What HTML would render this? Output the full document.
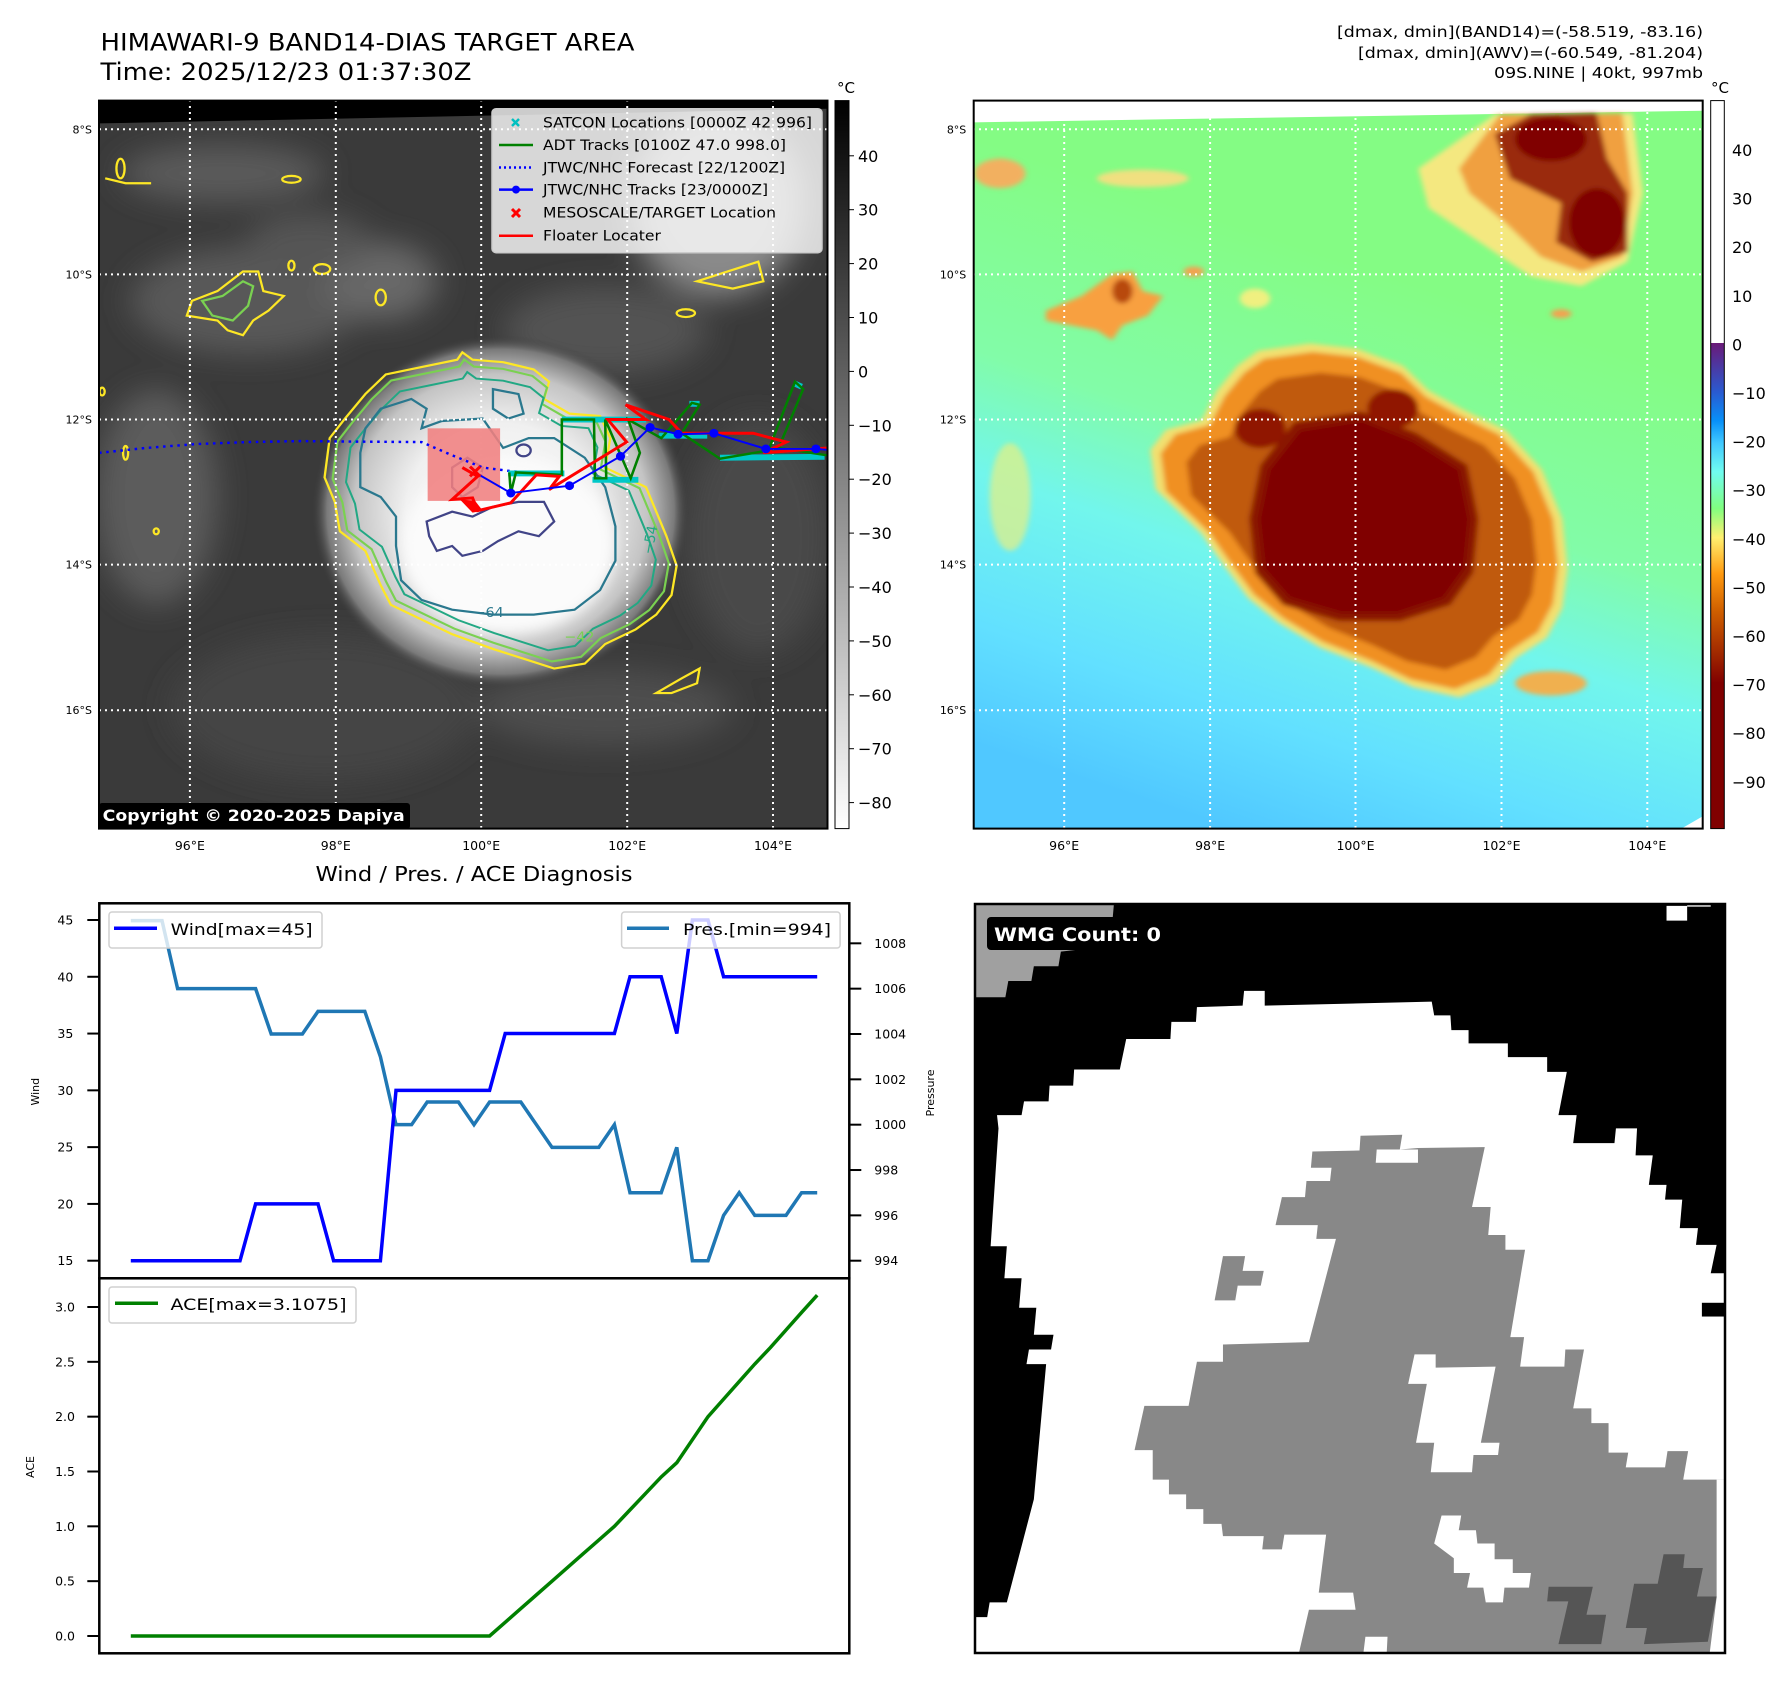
<!DOCTYPE html>
<html><head><meta charset="utf-8"><title>HIMAWARI-9 BAND14 DIAS</title>
<style>
html,body{margin:0;padding:0;background:#fff;}
svg{display:block;font-family:"DejaVu Sans","Liberation Sans",sans-serif;}
</style></head>
<body>
<svg id="root" width="1792" height="1690" viewBox="0 0 1792 1690" xmlns="http://www.w3.org/2000/svg">
<defs>
  <filter id="blur4" x="-20%" y="-20%" width="140%" height="140%"><feGaussianBlur stdDeviation="5"/></filter>
  <filter id="blur10" x="-30%" y="-30%" width="160%" height="160%"><feGaussianBlur stdDeviation="14"/></filter>
  <filter id="blur25" x="-50%" y="-50%" width="200%" height="200%"><feGaussianBlur stdDeviation="30"/></filter>
  <radialGradient id="stormGlow" cx="0.5" cy="0.5" r="0.5">
    <stop offset="0" stop-color="#ffffff"/>
    <stop offset="0.5" stop-color="#f0f0f0"/>
    <stop offset="0.78" stop-color="#c4c4c4"/>
    <stop offset="0.92" stop-color="#7a7a7a"/>
    <stop offset="1" stop-color="#3c3c3c" stop-opacity="0"/>
  </radialGradient>
  <linearGradient id="bgRight" x1="0.6" y1="0.25" x2="0.35" y2="1">
    <stop offset="0" stop-color="#84fc84"/>
    <stop offset="0.35" stop-color="#82fca8"/>
    <stop offset="0.55" stop-color="#72f6ec"/>
    <stop offset="0.8" stop-color="#62e0ff"/>
    <stop offset="1" stop-color="#50c8ff"/>
  </linearGradient>
  <linearGradient id="cbLeft" x1="0" y1="0" x2="0" y2="1">
    <stop offset="0" stop-color="#000"/>
    <stop offset="1" stop-color="#fff"/>
  </linearGradient>
  <linearGradient id="cbRight" x1="0" y1="0" x2="0" y2="1">
    <stop offset="0" stop-color="#ffffff"/>
    <stop offset="0.333" stop-color="#ffffff"/>
    <stop offset="0.3331" stop-color="#6a1a78"/>
    <stop offset="0.40" stop-color="#2a5ad0"/>
    <stop offset="0.44" stop-color="#0890f8"/>
    <stop offset="0.47" stop-color="#40c8ff"/>
    <stop offset="0.51" stop-color="#70fcf0"/>
    <stop offset="0.56" stop-color="#80ff80"/>
    <stop offset="0.60" stop-color="#fff070"/>
    <stop offset="0.65" stop-color="#ff9a10"/>
    <stop offset="0.70" stop-color="#d06000"/>
    <stop offset="0.76" stop-color="#a02800"/>
    <stop offset="0.80" stop-color="#800000"/>
    <stop offset="1" stop-color="#800000"/>
  </linearGradient>
  <clipPath id="clipL"><rect x="99" y="100.6" width="728.5" height="728"/></clipPath>
  <clipPath id="clipR"><rect x="973.7" y="100.6" width="729" height="728"/></clipPath>
  <clipPath id="clipW"><rect x="975" y="904" width="750" height="749"/></clipPath>
  <path id="stormY" d="M570,570 L640,555 L710,540 L720,525 L740,540 L800,545 L860,560 L890,585 L880,620 L930,650 L990,655 L1010,700 L1000,760 L1060,790 L1080,800 L1100,850 L1120,900 L1140,960 L1130,1020 L1100,1060 L1060,1090 L1000,1120 L960,1160 L900,1170 L840,1150 L780,1130 L700,1100 L640,1070 L580,1040 L560,1000 L530,930 L480,890 L470,830 L450,780 L460,700 L490,660 L530,610 Z"/>
  <path id="storm64" d="M560,640 L620,620 L650,640 L640,680 L680,665 L760,660 L780,690 L800,720 L850,700 L900,700 L960,740 L1000,800 L1020,880 L1020,950 L990,1010 L940,1050 L860,1060 L780,1060 L700,1050 L640,1030 L600,990 L590,920 L590,860 L560,820 L520,800 L520,730 L530,680 Z"/>
</defs>

<text x="100.5" y="50.7" font-size="24" textLength="534" lengthAdjust="spacingAndGlyphs">HIMAWARI-9 BAND14-DIAS TARGET AREA</text>
<text x="100.5" y="80" font-size="24" textLength="371" lengthAdjust="spacingAndGlyphs">Time: 2025/12/23 01:37:30Z</text>
<g text-anchor="end" font-size="15.5">
  <text x="1703" y="37" textLength="366" lengthAdjust="spacingAndGlyphs">[dmax, dmin](BAND14)=(-58.519, -83.16)</text>
  <text x="1703" y="58" textLength="345" lengthAdjust="spacingAndGlyphs">[dmax, dmin](AWV)=(-60.549, -81.204)</text>
  <text x="1703" y="78" textLength="209" lengthAdjust="spacingAndGlyphs">09S.NINE | 40kt, 997mb</text>
</g>

<!-- ===== LEFT MAP ===== -->
<g>
<g clip-path="url(#clipL)">
 <rect x="99" y="100.6" width="729" height="728" fill="#3a3a3a"/>
 <g transform="translate(95,95) scale(0.5102,0.4902)">
  <g filter="url(#blur25)">
   <ellipse cx="250" cy="160" rx="200" ry="60" fill="#5a5a5a"/>
   <ellipse cx="300" cy="420" rx="230" ry="110" fill="#585858"/>
   <ellipse cx="560" cy="380" rx="110" ry="80" fill="#686868"/>
   <ellipse cx="420" cy="300" rx="120" ry="60" fill="#555"/>
   <ellipse cx="120" cy="820" rx="120" ry="220" fill="#5c5c5c"/>
   <ellipse cx="1220" cy="220" rx="170" ry="190" fill="#8a8a8a"/>
   <ellipse cx="1000" cy="480" rx="200" ry="90" fill="#525252"/>
   <ellipse cx="1300" cy="900" rx="140" ry="240" fill="#4a4a4a"/>
   <ellipse cx="450" cy="1250" rx="300" ry="150" fill="#444"/>
   <ellipse cx="1000" cy="1250" rx="250" ry="80" fill="#4d4d4d"/>
  </g>
  <ellipse cx="795" cy="850" rx="370" ry="360" fill="url(#stormGlow)"/>
  <ellipse cx="810" cy="920" rx="210" ry="180" fill="#fbfbfb" filter="url(#blur10)"/>
  <polygon points="8,0 1440,0 1440,28 8,58" fill="#000"/>
  <g fill="none" stroke-width="4.5">
   <use href="#stormY" stroke="#fde725"/>
   <use href="#stormY" stroke="#7ad151" transform="translate(800,850) scale(0.955) translate(-800,-850)"/>
   <use href="#stormY" stroke="#22a884" transform="translate(800,860) scale(0.88) translate(-800,-860)"/>
   <use href="#storm64" stroke="#2a788e"/>
   <path d="M650,870 L700,850 L740,860 L780,840 L830,830 L880,830 L900,870 L870,900 L830,890 L790,910 L760,930 L720,940 L700,920 L670,930 L655,900 Z" stroke="#414487"/>
   <path d="M700,760 L730,740 L760,760 L750,800 L720,820 L700,800 Z" stroke="#414487"/>
   <ellipse cx="840" cy="725" rx="14" ry="12" stroke="#414487"/>
   <path d="M780,600 L830,610 L840,650 L810,660 L780,640 Z" stroke="#2a788e"/>
   <path d="M190,420 L240,400 L290,360 L320,360 L330,400 L370,410 L340,440 L310,460 L290,490 L260,480 L240,460 L180,450 Z" stroke="#fde725"/>
   <path d="M210,420 L250,410 L290,380 L310,390 L300,430 L270,460 L230,450 Z" stroke="#7ad151"/>
   <ellipse cx="445" cy="355" rx="16" ry="10" stroke="#fde725"/>
   <ellipse cx="385" cy="348" rx="6" ry="10" stroke="#fde725"/>
   <ellipse cx="560" cy="413" rx="10" ry="16" stroke="#fde725"/>
   <ellipse cx="50" cy="150" rx="8" ry="20" stroke="#fde725"/>
   <path d="M20,170 L60,180 L110,180" stroke="#fde725"/>
   <ellipse cx="385" cy="172" rx="18" ry="7" stroke="#fde725"/>
   <ellipse cx="1158" cy="445" rx="18" ry="8" stroke="#fde725"/>
   <path d="M1180,380 L1240,360 L1300,340 L1310,380 L1250,395 Z" stroke="#fde725"/>
   <path d="M1100,1220 L1150,1190 L1185,1170 L1180,1200 L1130,1220 Z" stroke="#fde725"/>
   <ellipse cx="60" cy="730" rx="5" ry="14" stroke="#fde725"/>
   <ellipse cx="14" cy="605" rx="5" ry="8" stroke="#fde725"/>
   <ellipse cx="120" cy="890" rx="5" ry="6" stroke="#fde725"/>
  </g>
  <g font-size="28" fill="#2a788e">
   <text x="742" y="1065">−64</text>
   <text x="1060" y="940" fill="#22a884" transform="rotate(-80 1075 920)">−54</text>
   <text x="920" y="1115" fill="#7ad151">−42</text>
  </g>
 </g>
 <g stroke="#fff" stroke-width="2" stroke-dasharray="2,4">
  <line x1="189.9" y1="100" x2="189.9" y2="829"/><line x1="335.8" y1="100" x2="335.8" y2="829"/><line x1="481.2" y1="100" x2="481.2" y2="829"/><line x1="627.2" y1="100" x2="627.2" y2="829"/><line x1="773" y1="100" x2="773" y2="829"/>
  <line x1="99" y1="129.3" x2="828" y2="129.3"/><line x1="99" y1="274.4" x2="828" y2="274.4"/><line x1="99" y1="419.5" x2="828" y2="419.5"/><line x1="99" y1="564.6" x2="828" y2="564.6"/><line x1="99" y1="710.2" x2="828" y2="710.2"/>
 </g>
 <g transform="translate(95,95) scale(0.5102,0.4902)">
  <rect x="652" y="680" width="142" height="148" fill="#f08080" opacity="0.88"/>
  <polyline points="8,730 100,720 200,712 300,708 400,706 500,707 640,708 700,735 760,760 820,768 870,770" fill="none" stroke="#0000ff" stroke-width="5" stroke-dasharray="5,9"/>
  <g stroke="#00c8c8" stroke-width="12" fill="none">
   <line x1="915" y1="662" x2="1080" y2="662"/><line x1="810" y1="772" x2="920" y2="772"/><line x1="975" y1="785" x2="1065" y2="785"/><line x1="1105" y1="695" x2="1200" y2="695"/><line x1="1225" y1="740" x2="1430" y2="738"/><line x1="1165" y1="630" x2="1185" y2="630"/><line x1="1370" y1="588" x2="1385" y2="595"/>
  </g>
  <polyline points="812,770 815,812 825,770 915,775 915,662 978,662 980,782 1002,782 1000,662 1050,782 1068,730 1045,662 1110,700 1170,628 1185,632 1150,690 1225,742 1320,725 1372,585 1388,600 1340,720 1435,735" fill="none" stroke="#008000" stroke-width="5"/>
  <polyline points="720,760 750,778 700,825 740,822 750,848 815,832 865,775 910,778 890,805 1042,708 1005,662 1080,662 1040,632 1125,662 1150,690 1290,690 1355,708 1310,730 1438,720" fill="none" stroke="#ff0000" stroke-width="6"/>
  <polygon points="715,825 745,828 760,848 740,852" fill="#ff0000"/>
  <polyline points="745,770 815,812 930,797 1030,737 1088,678 1143,692 1213,690 1315,722 1413,722 1438,724" fill="none" stroke="#0000ff" stroke-width="4"/>
  <g fill="#0000ff">
   <ellipse cx="815" cy="812" rx="9" ry="9"/><ellipse cx="930" cy="797" rx="9" ry="9"/><ellipse cx="1030" cy="737" rx="9" ry="9"/><ellipse cx="1088" cy="678" rx="9" ry="9"/><ellipse cx="1143" cy="692" rx="9" ry="9"/><ellipse cx="1213" cy="690" rx="9" ry="9"/><ellipse cx="1315" cy="722" rx="9" ry="9"/><ellipse cx="1413" cy="722" rx="9" ry="9"/>
  </g>
  <g stroke="#ff0000" stroke-width="6"><line x1="735" y1="758" x2="755" y2="778"/><line x1="755" y1="758" x2="735" y2="778"/></g>
 </g>
 <g>
  <rect x="492" y="108.7" width="330" height="144" rx="4" fill="#fff" fill-opacity="0.8" stroke="#ccc" stroke-width="1.5"/>
  <g stroke="#00c0c0" stroke-width="2.5"><line x1="512" y1="119" x2="519" y2="126"/><line x1="519" y1="119" x2="512" y2="126"/></g>
  <line x1="499" y1="145" x2="533" y2="145" stroke="#008000" stroke-width="2.5"/>
  <line x1="499" y1="167.5" x2="533" y2="167.5" stroke="#0000ff" stroke-width="2.5" stroke-dasharray="2,3"/>
  <line x1="499" y1="189.6" x2="533" y2="189.6" stroke="#0000ff" stroke-width="2.5"/>
  <circle cx="516" cy="189.6" r="4" fill="#0000ff"/>
  <g stroke="#ff0000" stroke-width="3"><line x1="512" y1="209" x2="520" y2="217"/><line x1="520" y1="209" x2="512" y2="217"/></g>
  <line x1="499" y1="235.7" x2="533" y2="235.7" stroke="#ff0000" stroke-width="2.5"/>
  <g font-size="14.5" fill="#000">
   <text x="543" y="127.5" textLength="269" lengthAdjust="spacingAndGlyphs">SATCON Locations [0000Z 42 996]</text>
   <text x="543" y="150" textLength="243" lengthAdjust="spacingAndGlyphs">ADT Tracks [0100Z 47.0 998.0]</text>
   <text x="543" y="172.5" textLength="242" lengthAdjust="spacingAndGlyphs">JTWC/NHC Forecast [22/1200Z]</text>
   <text x="543" y="194.6" textLength="225" lengthAdjust="spacingAndGlyphs">JTWC/NHC Tracks [23/0000Z]</text>
   <text x="543" y="217.6" textLength="233" lengthAdjust="spacingAndGlyphs">MESOSCALE/TARGET Location</text>
   <text x="543" y="240.7" textLength="118" lengthAdjust="spacingAndGlyphs">Floater Locater</text>
  </g>
 </g>
 <g>
  <rect x="99" y="803" width="311" height="26" rx="3" fill="#000"/>
  <text x="102.7" y="821" font-size="16" font-weight="bold" fill="#fff" textLength="302" lengthAdjust="spacingAndGlyphs">Copyright © 2020-2025 Dapiya</text>
 </g>
</g>
<rect x="99" y="100.6" width="728.5" height="728" fill="none" stroke="#000" stroke-width="2"/>
</g>

<g>
 <rect x="835" y="100.6" width="14" height="728" fill="url(#cbLeft)" stroke="#000" stroke-width="1"/>
 <text x="846" y="93" font-size="15" text-anchor="middle">°C</text>
 <g id="cbLeftTicks" font-size="16"></g>
</g>

<!-- ===== RIGHT MAP ===== -->
<g>
<g clip-path="url(#clipR)">
 <rect x="973.7" y="100.6" width="729" height="728" fill="url(#bgRight)"/>
 <g transform="translate(969.3,95) scale(0.5102,0.4902)">
  <polygon points="0,0 1440,0 1440,32 0,56" fill="#fff"/>
  <polygon points="1440,1470 1440,1500 1390,1500" fill="#fff"/>
  <g filter="url(#blur4)">
   <path d="M150,440 L220,410 L280,365 L320,360 L340,400 L380,410 L350,450 L300,470 L280,500 L250,480 L200,470 L150,460 Z" fill="#f8a040"/>
   <ellipse cx="300" cy="400" rx="20" ry="25" fill="#b84a10"/>
   <ellipse cx="440" cy="360" rx="20" ry="10" fill="#f5a050"/>
   <ellipse cx="560" cy="415" rx="30" ry="20" fill="#f0f080"/>
   <ellipse cx="60" cy="160" rx="50" ry="30" fill="#f2b060"/>
   <ellipse cx="340" cy="170" rx="90" ry="18" fill="#f0e080"/>
   <ellipse cx="80" cy="820" rx="40" ry="110" fill="#e8f080" opacity="0.7"/>
   <ellipse cx="1160" cy="446" rx="20" ry="9" fill="#f5a050"/>
   <ellipse cx="1140" cy="1200" rx="70" ry="25" fill="#f0b050"/>
   <path d="M880,150 L1030,40 L1300,38 L1320,200 L1290,340 L1200,390 L1100,370 L1000,300 L900,230 Z" fill="#f4e880"/>
   <path d="M960,150 L1040,40 L1280,38 L1300,200 L1280,330 L1200,360 L1120,330 L1050,260 L980,200 Z" fill="#f0a040"/>
   <path d="M1030,80 L1100,40 L1230,38 L1250,130 L1290,200 L1290,320 L1220,340 L1150,300 L1160,220 L1060,170 Z" fill="#9a2a08"/>
   <ellipse cx="1140" cy="90" rx="70" ry="45" fill="#800000"/>
   <ellipse cx="1230" cy="260" rx="55" ry="70" fill="#800000"/>
   <path d="M577,538 L673,524 L760,534 L846,567 L894,615 L962,654 L1038,692 L1106,769 L1144,865 L1154,962 L1144,1038 L1115,1096 L1058,1135 L1019,1183 L952,1212 L865,1192 L788,1154 L692,1115 L615,1067 L558,1019 L510,952 L471,894 L442,865 L385,808 L375,731 L404,692 L471,673 L500,615 L538,567 Z" fill="#f2e070" transform="translate(780,870) scale(1.05) translate(-780,-870)"/>
   <path d="M577,538 L673,524 L760,534 L846,567 L894,615 L962,654 L1038,692 L1106,769 L1144,865 L1154,962 L1144,1038 L1115,1096 L1058,1135 L1019,1183 L952,1212 L865,1192 L788,1154 L692,1115 L615,1067 L558,1019 L510,952 L471,894 L442,865 L385,808 L375,731 L404,692 L471,673 L500,615 L538,567 Z" fill="#f09020"/>
   <path d="M577,538 L673,524 L760,534 L846,567 L894,615 L962,654 L1038,692 L1106,769 L1144,865 L1154,962 L1144,1038 L1115,1096 L1058,1135 L1019,1183 L952,1212 L865,1192 L788,1154 L692,1115 L615,1067 L558,1019 L510,952 L471,894 L442,865 L385,808 L375,731 L404,692 L471,673 L500,615 L538,567 Z" fill="#c05a10" transform="translate(800,880) scale(0.88) translate(-800,-880)"/>
   <path d="M654,692 L769,673 L865,712 L952,769 L971,865 L962,962 L923,1019 L837,1048 L731,1048 L635,1019 L587,962 L577,865 L596,769 Z" fill="#8a1200" transform="translate(780,870) scale(1.14) translate(-780,-870)"/>
   <path d="M654,692 L769,673 L865,712 L952,769 L971,865 L962,962 L923,1019 L837,1048 L731,1048 L635,1019 L587,962 L577,865 L596,769 Z" fill="#800000" transform="translate(780,870) scale(1.04) translate(-780,-870)"/>
   <ellipse cx="570" cy="680" rx="50" ry="40" fill="#901800"/>
   <ellipse cx="830" cy="640" rx="50" ry="40" fill="#901800"/>
  </g>
 </g>
 <g stroke="#fff" stroke-width="2" stroke-dasharray="2,4">
  <line x1="1064.2" y1="100" x2="1064.2" y2="829"/><line x1="1210.1" y1="100" x2="1210.1" y2="829"/><line x1="1355.5" y1="100" x2="1355.5" y2="829"/><line x1="1501.5" y1="100" x2="1501.5" y2="829"/><line x1="1647.3" y1="100" x2="1647.3" y2="829"/>
  <line x1="973" y1="129.3" x2="1703" y2="129.3"/><line x1="973" y1="274.4" x2="1703" y2="274.4"/><line x1="973" y1="419.5" x2="1703" y2="419.5"/><line x1="973" y1="564.6" x2="1703" y2="564.6"/><line x1="973" y1="710.2" x2="1703" y2="710.2"/>
 </g>
</g>
<rect x="973.7" y="100.6" width="729" height="728" fill="none" stroke="#000" stroke-width="2"/>
</g>

<g>
 <rect x="1710.7" y="100.6" width="13.6" height="728" fill="url(#cbRight)" stroke="#000" stroke-width="1"/>
 <text x="1720" y="93" font-size="15" text-anchor="middle">°C</text>
 <g id="cbRightTicks" font-size="16"></g>
</g>

<g id="mapTicks"></g>

<text x="474" y="881" font-size="20" text-anchor="middle" textLength="317" lengthAdjust="spacingAndGlyphs">Wind / Pres. / ACE Diagnosis</text>
<g id="windChart"></g>
<g id="aceChart"></g>

<!-- ===== WMG panel ===== -->
<g>
<g clip-path="url(#clipW)">
 <g transform="translate(970,900) scale(0.4912)">
  <rect x="0" y="0" width="1568" height="1568" fill="#000"/>
  <path fill="#fff" d="M558,185 L600,185 L600,215 L940,207 L945,235 L978,235 L980,265 L1015,265 L1015,292 L1095,292 L1095,320 L1175,320 L1175,350 L1215,350 L1198,438 L1235,438 L1228,495 L1312,495 L1315,465 L1358,465 L1355,520 L1390,520 L1382,580 L1418,580 L1415,610 L1450,610 L1445,668 L1482,668 L1478,702 L1520,702 L1508,760 L1540,760 L1540,1540 L8,1540 L8,1460 L35,1460 L40,1430 L75,1430 L130,1220 L155,945 L115,945 L120,915 L165,915 L170,885 L130,885 L135,830 L100,830 L105,770 L70,770 L75,705 L42,705 L58,465 L55,438 L105,438 L110,410 L160,410 L162,378 L210,378 L212,345 L305,345 L318,283 L408,283 L410,248 L460,248 L462,218 L555,215 Z"/>
  <rect x="1490" y="820" width="50" height="28" fill="#000"/>
  <polygon points="1418,12 1460,12 1460,42 1418,42" fill="#fff"/>
  <line x1="1460" y1="12" x2="1508" y2="12" stroke="#fff" stroke-width="3"/>
  <polygon fill="#a0a0a0" points="8,8 293,8 285,100 230,100 185,105 180,135 130,135 125,165 78,165 72,198 8,198"/>
  <path fill="#888" d="M697,512 L793,510 L795,480 L880,478 L875,508 L912,505 L1048,503 L1022,625 L1060,625 L1055,682 L1090,682 L1090,712 L1130,712 L1100,890 L1128,890 L1120,950 L1210,950 L1212,915 L1250,915 L1228,1035 L1265,1035 L1265,1065 L1300,1065 L1300,1125 L1340,1125 L1335,1155 L1415,1155 L1420,1122 L1462,1122 L1452,1180 L1540,1180 L1540,1540 L848,1540 L850,1500 L805,1500 L800,1540 L668,1540 L690,1445 L785,1445 L780,1410 L710,1410 L725,1292 L640,1292 L635,1322 L595,1322 L598,1295 L515,1295 L512,1270 L475,1270 L475,1240 L440,1240 L440,1210 L405,1210 L405,1180 L372,1180 L372,1120 L335,1120 L355,1030 L445,1030 L462,940 L515,940 L515,905 L690,900 L745,690 L705,690 L708,662 L622,662 L635,605 L682,605 L685,572 L733,572 L736,545 L694,545 Z"/>
  <path fill="#fff" d="M828,508 L912,508 L912,535 L826,535 Z"/>
  <path fill="#fff" d="M905,925 L948,925 L948,952 L1070,950 L1040,1105 L1078,1105 L1075,1130 L1025,1130 L1022,1165 L938,1165 L945,1105 L908,1105 L930,985 L892,985 Z"/>
  <path fill="#888" d="M515,725 L560,725 L555,755 L598,755 L592,785 L545,785 L540,815 L498,815 Z"/>
  <path fill="#fff" d="M960,1253 L1000,1253 L995,1283 L1030,1283 L1033,1310 L1068,1310 L1068,1342 L1105,1342 L1105,1370 L1142,1370 L1138,1400 L1088,1400 L1085,1430 L1050,1430 L1045,1400 L1012,1400 L1018,1370 L985,1370 L985,1340 L945,1310 Z"/>
  <path fill="#fff" d="M1520,1180 L1540,1180 L1540,1540 L1505,1540 L1520,1420 Z"/>
  <path fill="#555" d="M1178,1398 L1268,1398 L1255,1455 L1295,1455 L1285,1515 L1198,1515 L1218,1428 L1175,1428 Z"/>
  <path fill="#555" d="M1412,1332 L1455,1332 L1452,1360 L1492,1360 L1480,1418 L1520,1418 L1502,1510 L1372,1515 L1378,1482 L1335,1482 L1352,1392 L1400,1392 Z"/>
 </g>
</g>
<rect x="975" y="904" width="750" height="749" fill="none" stroke="#000" stroke-width="2.5"/>
<g>
 <rect x="987" y="917" width="180" height="33" rx="4" fill="#000"/>
 <text x="994" y="941" font-size="19" font-weight="bold" fill="#fff" textLength="167" lengthAdjust="spacingAndGlyphs">WMG Count: 0</text>
</g>
</g>

<script>
const windValues = [15,15,15,15,15,15,15,15,20,20,20,20,20,15,15,15,15,30,30,30,30,30,30,30,35,35,35,35,35,35,35,35,40,40,40,35,45,45,40,40,40,40,40,40,40];
const presValues = [1009,1009,1009,1006,1006,1006,1006,1006,1006,1004,1004,1004,1005,1005,1005,1005,1003,1000,1000,1001,1001,1001,1000,1001,1001,1001,1000,999,999,999,999,1000,997,997,997,999,994,994,996,997,996,996,996,997,997];
const aceValues = [0,0,0,0,0,0,0,0,0,0,0,0,0,0,0,0,0,0,0,0,0,0,0,0,0.125,0.25,0.375,0.5,0.625,0.75,0.875,1.0,1.15,1.30,1.45,1.58,1.79,2.0,2.16,2.32,2.48,2.63,2.79,2.95,3.1075];
const windTicks = [15,20,25,30,35,40,45];
const presTicks = [994,996,998,1000,1002,1004,1006,1008];
const aceTicks = [0.0,0.5,1.0,1.5,2.0,2.5,3.0];
const aceTickLabels = ["0.0","0.5","1.0","1.5","2.0","2.5","3.0"];
const cbLeftTicks = [40,30,20,10,0,-10,-20,-30,-40,-50,-60,-70,-80];
const cbRightTicks = [40,30,20,10,0,-10,-20,-30,-40,-50,-60,-70,-80,-90];
const lonLabels = ["96°E","98°E","100°E","102°E","104°E"];
const latLabels = ["8°S","10°S","12°S","14°S","16°S"];

const NS = "http://www.w3.org/2000/svg";
function mk(tag, attrs, parent, text){
  const e = document.createElementNS(NS, tag);
  for (const k in attrs) e.setAttribute(k, attrs[k]);
  if (text !== undefined) e.textContent = text;
  parent.appendChild(e);
  return e;
}
const X0 = 130.8, DX = 15.6;
const xAt = i => X0 + i*DX;
const yWind = v => 1260.7 - (v-15)*11.357;
const yPres = p => 1260.7 - (p-994)*22.67;
const yAce = a => 1636 - a*109.67;

const wc = document.getElementById('windChart');
let fr = mk('rect',{x:99.3,y:903.3,width:750,height:375,fill:'#fff',stroke:'#000','stroke-width':2.5},wc);


windTicks.forEach(v=>{
  mk('line',{x1:87.3,x2:99.3,y1:yWind(v),y2:yWind(v),stroke:'#000','stroke-width':2},wc);
  const t = mk('text',{x:73.3,y:yWind(v)+4.5,'font-size':12.5,'text-anchor':'end'},wc,String(v));
  
  
});
presTicks.forEach(p=>{
  mk('line',{x1:849.3,x2:861.3,y1:yPres(p),y2:yPres(p),stroke:'#000','stroke-width':2},wc);
  const t = mk('text',{x:874.3,y:yPres(p)+4.5,'font-size':12.5},wc,String(p));
  
  
});
let wl = mk('text',{x:35,y:1091.7,'font-size':11,'text-anchor':'middle',transform:'rotate(-90 35 1091.7)',dy:4},wc,'Wind');


let pl = mk('text',{x:930,y:1093,'font-size':11,'text-anchor':'middle',transform:'rotate(-90 930 1093)',dy:4},wc,'Pressure');


let pp = mk('polyline',{points:presValues.map((p,i)=>xAt(i)+','+yPres(p)).join(' '),fill:'none',stroke:'#1f77b4','stroke-width':3.5},wc);


let wp = mk('polyline',{points:windValues.map((v,i)=>xAt(i)+','+yWind(v)).join(' '),fill:'none',stroke:'#0000ff','stroke-width':3.5},wc);


let lg1 = mk('g',{},wc);


mk('rect',{x:109,y:912,width:213,height:36,rx:3,fill:'#fff','fill-opacity':0.8,stroke:'#d0d0d0','stroke-width':1.5},lg1);
mk('line',{x1:114,x2:157,y1:928.3,y2:928.3,stroke:'#0000ff','stroke-width':3.5},lg1);
mk('text',{x:170.6,y:935,'font-size':16,textLength:142,lengthAdjust:'spacingAndGlyphs'},lg1,'Wind[max=45]');
let lg2 = mk('g',{},wc);


mk('rect',{x:621.6,y:912,width:218.5,height:36,rx:3,fill:'#fff','fill-opacity':0.8,stroke:'#d0d0d0','stroke-width':1.5},lg2);
mk('line',{x1:627,x2:669,y1:928.3,y2:928.3,stroke:'#1f77b4','stroke-width':3.5},lg2);
mk('text',{x:683,y:935,'font-size':16,textLength:148,lengthAdjust:'spacingAndGlyphs'},lg2,'Pres.[min=994]');

const ac = document.getElementById('aceChart');
let fr2 = mk('rect',{x:99.3,y:1278.3,width:750,height:375,fill:'#fff',stroke:'#000','stroke-width':2.5},ac);


aceTicks.forEach((a,k)=>{
  mk('line',{x1:87.3,x2:99.3,y1:yAce(a),y2:yAce(a),stroke:'#000','stroke-width':2},ac);
  const t = mk('text',{x:75,y:yAce(a)+4.5,'font-size':12.5,'text-anchor':'end'},ac,aceTickLabels[k]);
  
  
});
let al = mk('text',{x:30,y:1467,'font-size':11,'text-anchor':'middle',transform:'rotate(-90 30 1467)',dy:4},ac,'ACE');


let apl = mk('polyline',{points:aceValues.map((a,i)=>xAt(i)+','+yAce(a)).join(' '),fill:'none',stroke:'#008000','stroke-width':3.5},ac);


let lg3 = mk('g',{},ac);


mk('rect',{x:109,y:1287,width:247,height:36,rx:3,fill:'#fff','fill-opacity':0.8,stroke:'#d0d0d0','stroke-width':1.5},lg3);
mk('line',{x1:115,x2:158,y1:1303.3,y2:1303.3,stroke:'#008000','stroke-width':3.5},lg3);
mk('text',{x:170.5,y:1310,'font-size':16,textLength:176,lengthAdjust:'spacingAndGlyphs'},lg3,'ACE[max=3.1075]');

const cbl = document.getElementById('cbLeftTicks');
cbLeftTicks.forEach(v=>{
  const y = 155.8 + (40-v)*5.39;
  mk('line',{x1:849,x2:854,y1:y,y2:y,stroke:'#000','stroke-width':1},cbl);
  const t = mk('text',{x:858,y:y+6},cbl,v<0?'\u2212'+Math.abs(v):String(v));
  
  
});
const cbr = document.getElementById('cbRightTicks');
cbRightTicks.forEach(v=>{
  const y = 150 + (40-v)*4.86;
  const t = mk('text',{x:1732,y:y+6},cbr,v<0?'\u2212'+Math.abs(v):String(v));
  
  
});
const mt = document.getElementById('mapTicks');
const lonX = [189.9,335.8,481.2,627.2,773];
const latY = [129.3,274.4,419.5,564.6,710.2];
[0,874.3].forEach(off=>{
  lonLabels.forEach((s,k)=>{
    const t = mk('text',{x:lonX[k]+off,y:850,'font-size':12.5,'text-anchor':'middle'},mt,s);
    
    
  });
  latLabels.forEach((s,k)=>{
    const t = mk('text',{x:92+off,y:latY[k]+4,'font-size':11,'text-anchor':'end'},mt,s);
    
    
  });
});
</script>
</svg>
</body></html>
